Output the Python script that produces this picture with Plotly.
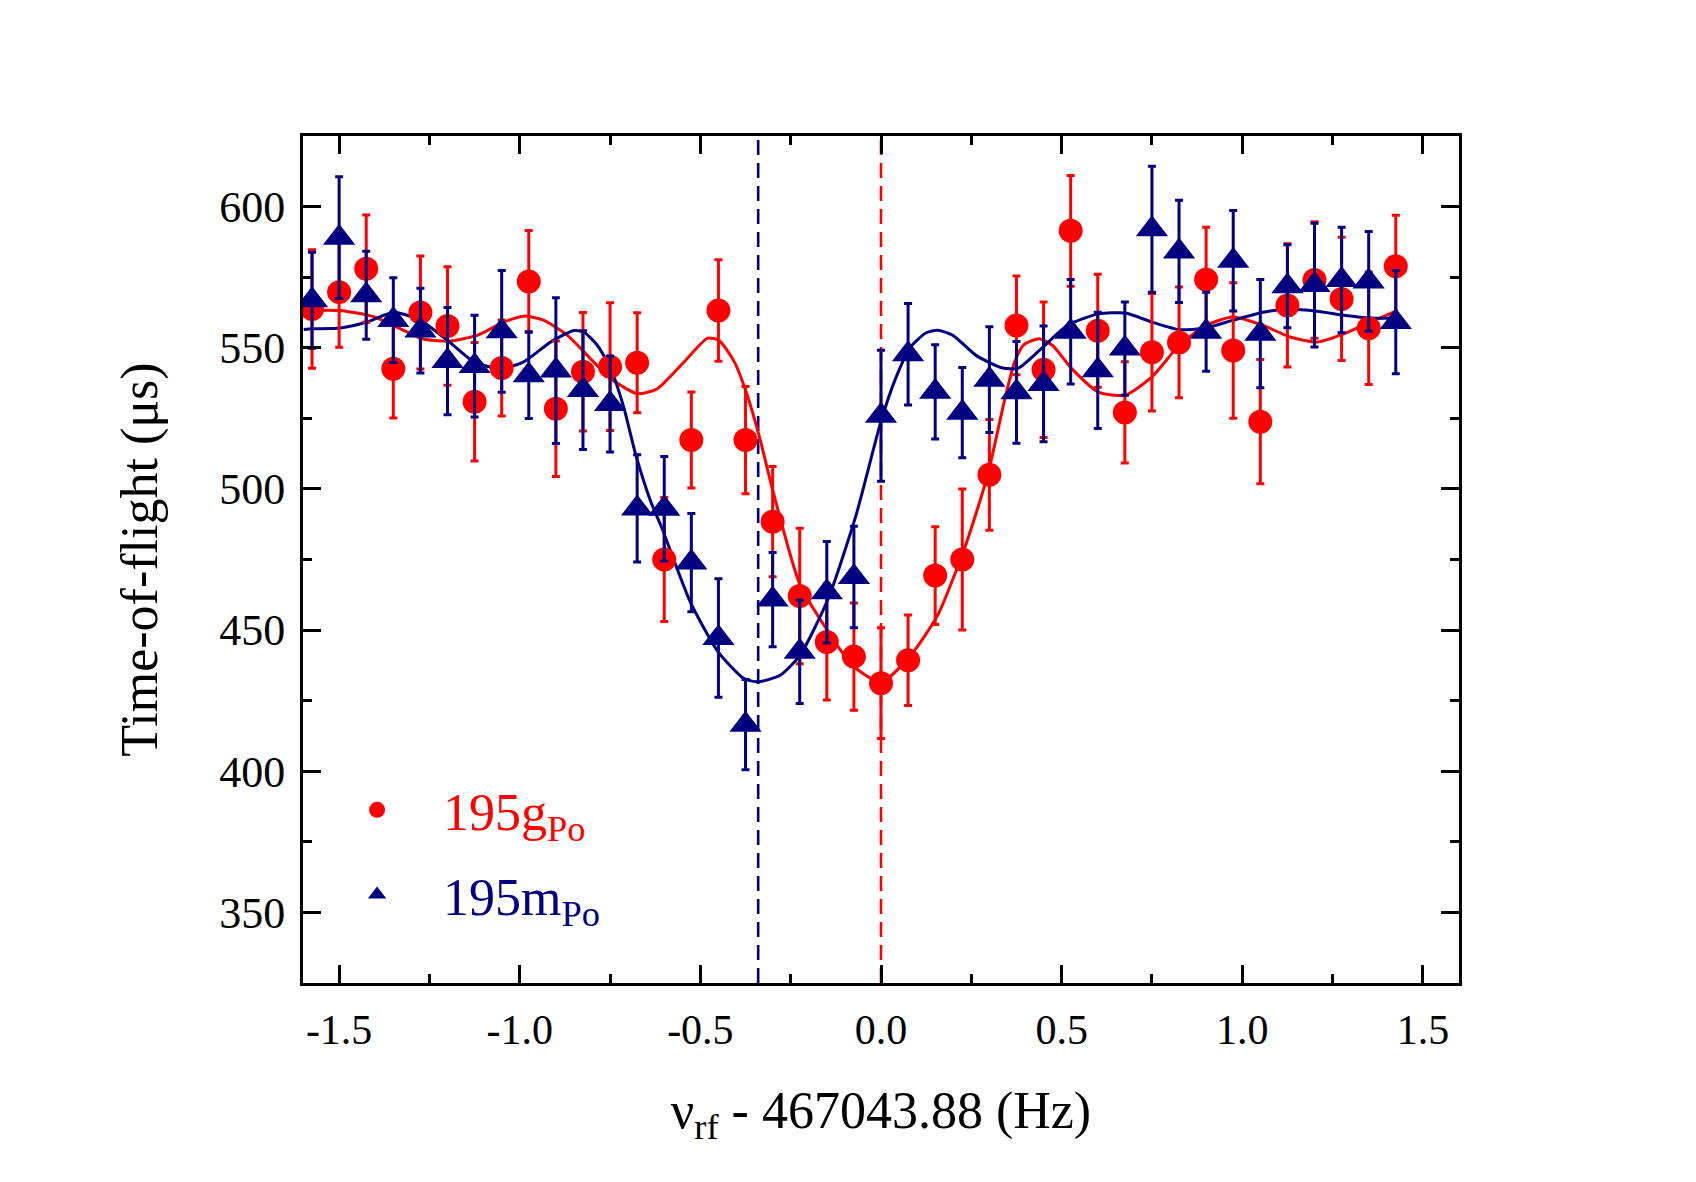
import plotly.graph_objects as go

# ---- data ----
freq = [-1.575, -1.5, -1.425, -1.35, -1.275, -1.2, -1.125, -1.05, -0.975, -0.9,
        -0.825, -0.75, -0.675, -0.6, -0.525, -0.45, -0.375, -0.3, -0.225, -0.15,
        -0.075, 0.0, 0.075, 0.15, 0.225, 0.3, 0.375, 0.45, 0.525, 0.6,
        0.675, 0.75, 0.825, 0.9, 0.975, 1.05, 1.125, 1.2, 1.275, 1.35, 1.425]

tof_g = [563.7, 569.7, 578.0, 542.6, 562.5, 557.7, 530.9, 542.8, 573.5, 528.4,
         541.5, 543.3, 544.7, 475.0, 517.3, 563.2, 517.3, 488.4, 462.1, 445.8,
         440.6, 431.2, 439.3, 469.3, 475.0, 505.0, 557.9, 542.2, 591.4, 556.0,
         527.1, 548.4, 551.9, 574.2, 549.0, 523.8, 565.0, 574.0, 567.3, 556.9, 578.9]
err_g = [21, 19.5, 19, 17.5, 20, 21, 21, 17, 18, 24,
         21, 22.6, 17.7, 22, 17, 18, 19, 19.5, 24, 20.6,
         19, 19.6, 16, 17.3, 25, 19.6, 17.5, 24, 19.6, 20,
         17.9, 20.8, 19.6, 18.5, 24, 22, 21.8, 20.6, 21.8, 19.9, 18]

tof_m = [566.8, 589.0, 568.6, 559.8, 556.1, 545.3, 543.5, 555.8, 540.3, 541.9,
         535.0, 530.1, 493.1, 493.0, 473.9, 447.2, 416.5, 460.8, 442.3, 463.4,
         468.8, 525.9, 547.7, 534.4, 527.0, 538.7, 534.2, 537.2, 555.7, 542.0,
         549.7, 592.0, 584.1, 555.7, 580.8, 555.0, 571.8, 572.2, 574.0, 573.5, 559.1]
err_m = [17, 21.6, 15.6, 15, 15, 19, 18, 21.6, 15.4, 25.8,
         21, 17, 19, 18.5, 17.4, 21, 16, 16.7, 18.3, 18,
         18, 23.2, 18, 16.7, 16, 18.7, 18, 20.5, 18.5, 20.6,
         16.5, 22.3, 18.1, 14, 17.8, 19.2, 14.7, 21.9, 18.7, 17.7, 18.3]

# fitted curves
fit_g_x = [-1.598, -1.497, -1.405, -1.33, -1.27, -1.2, -1.118, -1.044, -0.989, -0.933,
           -0.868, -0.804, -0.748, -0.674, -0.619, -0.545, -0.48, -0.448, -0.406, -0.37,
           -0.333, -0.301, -0.224, -0.146, -0.08, 0.0, 0.083, 0.157, 0.231, 0.295,
           0.343, 0.37, 0.395, 0.438, 0.475, 0.528, 0.602, 0.676, 0.75, 0.825,
           0.9, 0.973, 1.058, 1.132, 1.207, 1.281, 1.355, 1.43]
fit_g_y = [563.2, 563.2, 561.0, 556.7, 553.2, 552.3, 554.4, 559.1, 561.2, 559.7,
           554.4, 546.1, 539.0, 533.7, 535.5, 545.0, 553.4, 552.6, 545.0, 533.1,
           516.7, 500.2, 465.9, 449.4, 437.6, 431.5, 441.2, 455.3, 478.9, 504.8,
           532.0, 545.0, 551.0, 553.2, 550.8, 542.6, 534.3, 533.2, 539.7, 550.8,
           557.9, 560.9, 557.9, 553.8, 552.0, 554.9, 559.1, 563.2]

fit_m_x = [-1.598, -1.575, -1.497, -1.423, -1.349, -1.275, -1.2, -1.127, -1.053, -0.989,
           -0.915, -0.85, -0.822, -0.785, -0.748, -0.711, -0.68, -0.637, -0.606, -0.528,
           -0.451, -0.379, -0.34, -0.279, -0.224, -0.146, -0.069, 0.0, 0.04, 0.082,
           0.125, 0.157, 0.199, 0.263, 0.337, 0.38, 0.443, 0.518, 0.602, 0.676,
           0.75, 0.825, 0.9, 0.973, 1.058, 1.132, 1.207, 1.281, 1.355, 1.43]
fit_m_y = [556.5, 556.7, 557.0, 559.1, 562.6, 559.7, 552.6, 545.0, 542.6, 545.0,
           552.0, 556.1, 555.5, 550.8, 542.6, 528.4, 512.6, 495.4, 486.0, 460.0,
           442.3, 432.8, 431.7, 434.0, 441.1, 461.2, 490.7, 524.0, 539.0, 550.3,
           555.3, 556.2, 554.4, 547.3, 542.8, 542.8, 549.6, 558.1, 562.0, 562.3,
           559.1, 556.4, 557.0, 559.7, 562.6, 563.6, 562.9, 561.5, 560.5, 560.5]

centre_g = 0.0
centre_m = -0.34

x_tick_vals = [-1.5, -1.0, -0.5, 0.0, 0.5, 1.0, 1.5]
x_tick_text = ["-1.5", "-1.0", "-0.5", "0.0", "0.5", "1.0", "1.5"]
y_tick_vals = [350, 400, 450, 500, 550, 600]

RED = "#FF0000"
NAVY = "#000080"
FONT = "Liberation Serif"

fig = go.Figure()

fig.add_trace(go.Scatter(x=fit_g_x, y=fit_g_y, mode="lines",
                         line=dict(color=RED, width=3, shape="spline", smoothing=0.6),
                         showlegend=False, hoverinfo="skip"))
fig.add_trace(go.Scatter(x=fit_m_x, y=fit_m_y, mode="lines",
                         line=dict(color=NAVY, width=3, shape="spline", smoothing=0.6),
                         showlegend=False, hoverinfo="skip"))

fig.add_trace(go.Scatter(
    x=freq, y=tof_g, mode="markers", legendgroup="g",
    name="<span style='color:#FF0000'>195g<sub>Po</sub></span>",
    marker=dict(symbol="circle", size=24, color=RED),
    error_y=dict(type="data", array=err_g, color=RED, thickness=3, width=4),
))
fig.add_trace(go.Scatter(
    x=freq, y=tof_m, mode="markers", legendgroup="m",
    name="<span style='color:#000080'>195m<sub>Po</sub></span>",
    marker=dict(symbol="triangle-up", size=28, color=NAVY),
    error_y=dict(type="data", array=err_m, color=NAVY, thickness=3, width=4),
))

for xv, col in [(centre_m, NAVY), (centre_g, RED)]:
    fig.add_shape(type="line", xref="x", yref="paper", x0=xv, x1=xv, y0=0, y1=1,
                  line=dict(color=col, width=2.6, dash="15px,8px"), layer="below")

axis_common = dict(showline=True, linewidth=3, linecolor="black", mirror="ticks",
                   ticks="inside", ticklen=18, tickwidth=3, tickcolor="black",
                   showgrid=False, zeroline=False)

fig.update_xaxes(range=[-1.6, 1.6], tickmode="array", tickvals=x_tick_vals, ticktext=x_tick_text,
                 tickfont=dict(family=FONT, size=42, color="black"),
                 minor=dict(ticks="inside", ticklen=9, tickwidth=3, tickcolor="black",
                            tickmode="linear", tick0=0, dtick=0.25),
                 title=dict(text="ν<sub>rf</sub> - 467043.88 (Hz)",
                            font=dict(family=FONT, size=52, color="black"), standoff=40),
                 ticklabelstandoff=8,
                 **axis_common)
fig.update_yaxes(range=[325, 625], tickmode="array", tickvals=y_tick_vals,
                 tickfont=dict(family=FONT, size=44, color="black"),
                 minor=dict(ticks="inside", ticklen=9, tickwidth=3, tickcolor="black",
                            tickmode="linear", tick0=0, dtick=25),
                 title=dict(text="Time-of-flight (μs)",
                            font=dict(family=FONT, size=52, color="black"), standoff=46),
                 ticklabelstandoff=6,
                 **axis_common)

fig.update_layout(
    width=1696, height=1182,
    margin=dict(l=303, r=237, t=136, b=199, autoexpand=False),
    paper_bgcolor="white", plot_bgcolor="white",
    font=dict(family=FONT, color="black"),
    legend=dict(x=0.007, y=0.252, xanchor="left", yanchor="top",
                bgcolor="rgba(0,0,0,0)", font=dict(family=FONT, size=52),
                itemwidth=122, tracegroupgap=14),
    showlegend=True,
)

fig.write_html("out.html")
